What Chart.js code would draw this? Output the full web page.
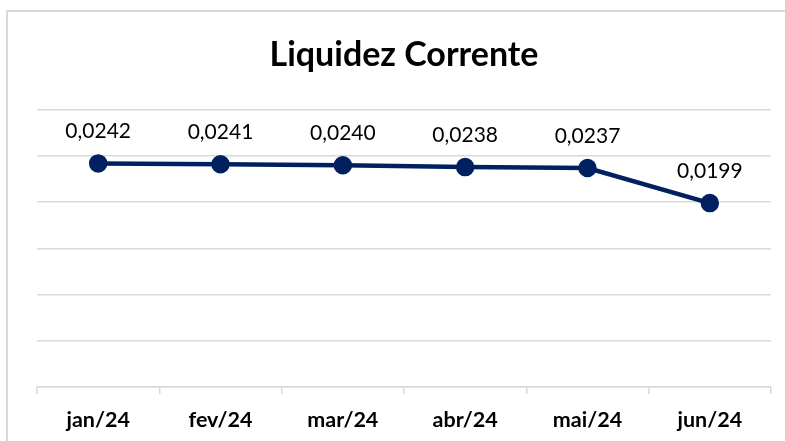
<!DOCTYPE html>
<html>
<head>
<meta charset="utf-8">
<script src="https://cdn.jsdelivr.net/npm/chart.js@4/dist/chart.umd.min.js"></script>
<style>
  html, body { margin: 0; padding: 0; background: #ffffff; }
  #wrap { position: relative; width: 785px; height: 441px; overflow: hidden; }
  #frame { position: absolute; left: 6px; top: 10px; width: 800px; height: 460px;
           border-left: 2px solid #d9d9d9; border-top: 2px solid #d9d9d9; box-sizing: border-box; }
  canvas { position: absolute; left: 0; top: 0; }
</style>
</head>
<body>
<div id="wrap">
  <div id="frame"></div>
  <canvas id="c" width="785" height="441"></canvas>
</div>
<script>
const categories = ['jan/24', 'fev/24', 'mar/24', 'abr/24', 'mai/24', 'jun/24'];
const liquidezCorrente = [0.0242, 0.0241, 0.0240, 0.0238, 0.0237, 0.0199];
const chartTitle = 'Liquidez Corrente';
const yMin = 0, yMax = 0.03, yStep = 0.005;

const FONT = 'Lato, "Open Sans", sans-serif';

const valueLabels = {
  id: 'valueLabels',
  afterDatasetsDraw(chart) {
    const ctx = chart.ctx;
    const meta = chart.getDatasetMeta(0);
    ctx.save();
    ctx.font = '21px ' + FONT;
    ctx.fillStyle = '#000000';
    ctx.textAlign = 'center';
    ctx.textBaseline = 'middle';
    meta.data.forEach((pt, i) => {
      const v = chart.data.datasets[0].data[i];
      ctx.fillText(v.toFixed(4).replace('.', ','), pt.x, pt.y - 32);
    });
    ctx.restore();
  }
};

new Chart(document.getElementById('c'), {
  type: 'line',
  data: {
    labels: categories,
    datasets: [{
      label: chartTitle,
      data: liquidezCorrente,
      borderColor: '#002060',
      backgroundColor: '#002060',
      borderWidth: 4.5,
      pointRadius: 7,
      pointHoverRadius: 7,
      pointBackgroundColor: '#002060',
      pointBorderColor: '#002060',
      tension: 0,
      fill: false
    }]
  },
  options: {
    responsive: false,
    animation: false,
    devicePixelRatio: 1,
    layout: { padding: { left: 37, right: 14, top: 0, bottom: 0 } },
    plugins: {
      legend: { display: false },
      tooltip: { enabled: false },
      title: {
        display: true,
        text: chartTitle,
        color: '#000000',
        font: { family: FONT, size: 34, weight: 'bold', lineHeight: 1.2 },
        padding: { top: 35, bottom: 34 }
      }
    },
    scales: {
      x: {
        offset: true,
        grid: { display: true, drawOnChartArea: false, offset: true, color: '#d9d9d9', lineWidth: 1.5, tickLength: 7 },
        border: { display: true, color: '#d9d9d9', width: 1.5 },
        ticks: { color: '#000000', font: { family: FONT, size: 21.5, weight: 'bold' }, padding: 13, maxRotation: 0 },
        afterFit(scale) { scale.height = 54; }
      },
      y: {
        min: yMin, max: yMax,
        ticks: { display: false, stepSize: yStep },
        grid: { color: '#d9d9d9', lineWidth: 1.5, drawTicks: false },
        border: { display: false },
        afterFit(scale) { scale.width = 0; }
      }
    }
  },
  plugins: [valueLabels]
});
</script>
</body>
</html>
